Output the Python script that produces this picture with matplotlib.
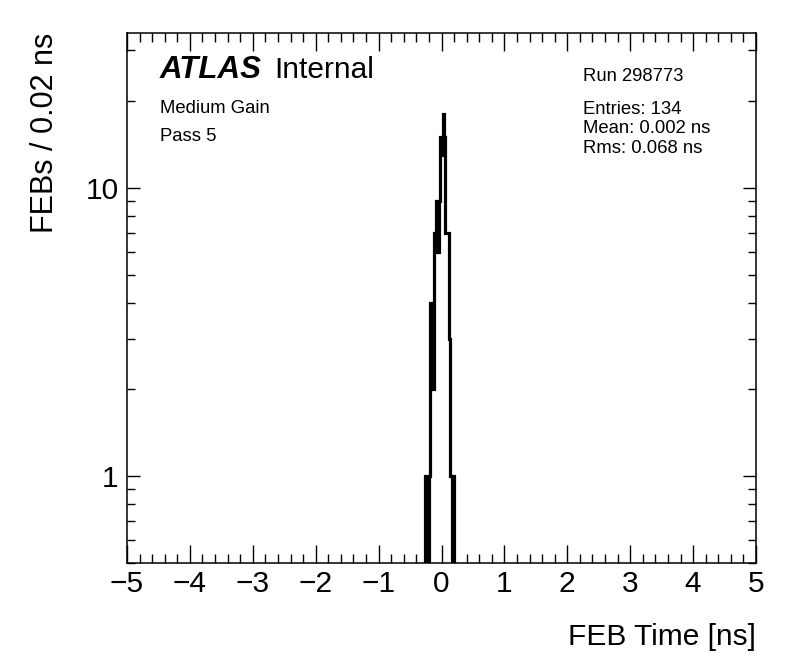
import numpy as np
import matplotlib
matplotlib.use("Agg")
import matplotlib.pyplot as plt
import matplotlib.ticker as ticker

# ---- data: FEB time histogram, 0.02 ns bins (only the populated region) ----
bin_edges = np.round(np.arange(-0.26, 0.2001, 0.02), 2)
counts = np.array([1, 0, 0, 1, 4, 2, 2, 7, 6, 9, 6, 9, 15, 13, 18, 15,
                   7, 7, 7, 3, 1, 0, 1], dtype=float)

run_label = "Run 298773"
gain_label = "Medium Gain"
pass_label = "Pass 5"
stats_lines = ["Entries: 134", "Mean: 0.002 ns", "Rms: 0.068 ns"]

x_range = (-5, 5)
y_range = (0.5, 34.5)

plt.rcParams["font.family"] = ["Liberation Sans", "DejaVu Sans"]

fig = plt.figure(figsize=(7.96, 6.72), dpi=100)
ax = fig.add_axes([127 / 796, 1 - 563 / 672, 629 / 796, 530 / 672])

# ROOT draws empty bins down to the frame bottom on a log axis
y_floor = 1e-3
ax.stairs(np.where(counts > 0, counts, y_floor), bin_edges, baseline=y_floor,
          color="black", lw=2.3)

ax.set_yscale("log")
ax.set_xlim(*x_range)
ax.set_ylim(*y_range)

# ticks: inward on all four sides, ROOT style
ax.xaxis.set_major_locator(ticker.MultipleLocator(1))
ax.xaxis.set_minor_locator(ticker.MultipleLocator(0.2))
ax.yaxis.set_major_locator(ticker.LogLocator(base=10, numticks=10))
ax.yaxis.set_minor_locator(ticker.LogLocator(base=10, subs=np.arange(2, 10), numticks=10))
ax.yaxis.set_major_formatter(ticker.FuncFormatter(lambda v, _: f"{v:g}"))
ax.yaxis.set_minor_formatter(ticker.NullFormatter())
ax.xaxis.set_major_formatter(ticker.FuncFormatter(lambda v, _: f"{v:g}".replace("-", "\u2212")))

ax.tick_params(axis="both", which="both", direction="in", top=True, right=True,
               labelsize=21.5, width=1.0, colors="black")
ax.tick_params(axis="x", which="major", length=13, pad=5)
ax.tick_params(axis="x", which="minor", length=6.5)
ax.tick_params(axis="y", which="major", length=9.5, pad=6)
ax.tick_params(axis="y", which="minor", length=6)
for sp in ax.spines.values():
    sp.set_linewidth(1.1)

ax.set_xlabel("FEB Time [ns]", fontsize=21.5, loc="right")
ax.xaxis.set_label_coords(1.0, -0.113)
ax.set_ylabel("FEBs / 0.02 ns", fontsize=22, loc="top")
ax.yaxis.set_label_coords(-0.107, 1.0)

# labels inside the frame
ax.text(0.0525, 0.9145, "ATLAS", transform=ax.transAxes, fontsize=22.5,
        fontweight="bold", fontstyle="italic", va="baseline", ha="left")
ax.text(0.2337, 0.9145, "Internal", transform=ax.transAxes, fontsize=21.5,
        va="baseline", ha="left")
ax.text(0.0525, 0.8485, gain_label, transform=ax.transAxes, fontsize=13.3,
        va="baseline", ha="left")
ax.text(0.0525, 0.7968, pass_label, transform=ax.transAxes, fontsize=13.3,
        va="baseline", ha="left")
ax.text(0.7245, 0.9100, run_label, transform=ax.transAxes, fontsize=13.3,
        va="baseline", ha="left")
for i, line in enumerate(stats_lines):
    ax.text(0.7245, 0.8466 - i * 0.0362, line, transform=ax.transAxes,
            fontsize=13.3, va="baseline", ha="left")

fig.savefig("out.png", dpi=100)
